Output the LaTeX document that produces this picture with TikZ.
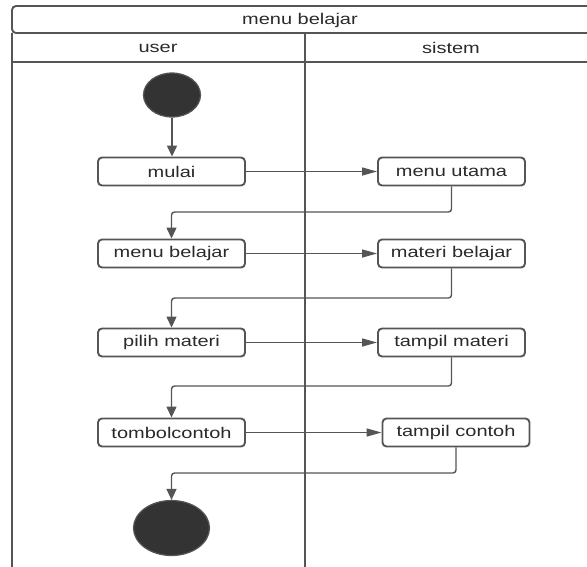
\documentclass[tikz,border=0pt]{standalone}
\usepackage{fontspec}
\setmainfont{Liberation Sans}[FakeStretch=1.29]
\usetikzlibrary{arrows.meta,shapes.geometric}
\definecolor{edge}{HTML}{555555}
\definecolor{ink}{HTML}{2A2A2A}
\definecolor{dot}{HTML}{333333}

\begin{document}
\begin{tikzpicture}[x=1pt,y=-1pt,
  txt/.style={text=ink, font=\fontsize{15.5}{18}\selectfont},
  act/.style={txt, draw=edge, line width=1.9pt, rounded corners=4pt, fill=white,
    minimum width=147pt, minimum height=28pt, inner sep=0pt},
  lane/.style={draw=edge, line width=1.9pt},
  hflow/.style={draw=edge, line width=1.4pt, -{Triangle[length=15pt,width=8pt]}},
  vflow/.style={draw=edge, line width=1.4pt, rounded corners=3pt, -{Triangle[length=11pt,width=10pt]}},
  blob/.style={ellipse, draw=edge, fill=dot, line width=1.2pt, inner sep=0pt}]
\useasboundingbox (0,0) rectangle (587,566);
\clip (0,0) rectangle (587,566);

% swimlane frame
\draw[lane, rounded corners=4pt] (12,6) rectangle (600,33);
\draw[lane] (12,33) -- (12,570);
\draw[lane] (12,62) -- (600,62);
\draw[lane] (305,33) -- (305,570);
\node[txt] (title) at (300,20) {menu belajar};
\node[txt] (luser) at (158,48) {user};
\node[txt] (lsys) at (451,48) {sistem};

% actions
\node[blob, minimum width=57pt, minimum height=44pt] (start) at (172,95) {};
\node[act] (mulai) at (171.5,171.5) {mulai};
\node[act] (utama) at (451.5,171.5) {menu utama};
\node[act] (mbel) at (171.5,253.5) {menu belajar};
\node[act] (mat) at (451.5,253.5) {materi belajar};
\node[act] (pilih) at (171.5,342.5) {pilih materi};
\node[act] (tmat) at (451.5,342.5) {tampil materi};
\node[act] (tomb) at (171.5,432.5) {tombolcontoh};
\node[act] (tcon) at (456,432.5) {tampil contoh};
\node[blob, minimum width=76pt, minimum height=55pt] (stop) at (171.5,528) {};

% return levels
\coordinate (r1) at (0,212);
\coordinate (r2) at (0,298);
\coordinate (r3) at (0,386);
\coordinate (r4) at (0,473);

% flows
\draw[vflow] (start.south) -- (start.south |- mulai.north);
\draw[hflow] (mulai) -- (utama);
\draw[vflow] (utama.south) -- (utama.south |- r1) -- (mbel.north |- r1) -- (mbel.north);
\draw[hflow] (mbel) -- (mat);
\draw[vflow] (mat.south) -- (mat.south |- r2) -- (pilih.north |- r2) -- (pilih.north);
\draw[hflow] (pilih) -- (tmat);
\draw[vflow] (tmat.south) -- (tmat.south |- r3) -- (tomb.north |- r3) -- (tomb.north);
\draw[hflow] (tomb) -- (tcon);
\draw[vflow] (tcon.south) -- (tcon.south |- r4) -- (stop.north |- r4) -- (stop.north);
\end{tikzpicture}
\end{document}
